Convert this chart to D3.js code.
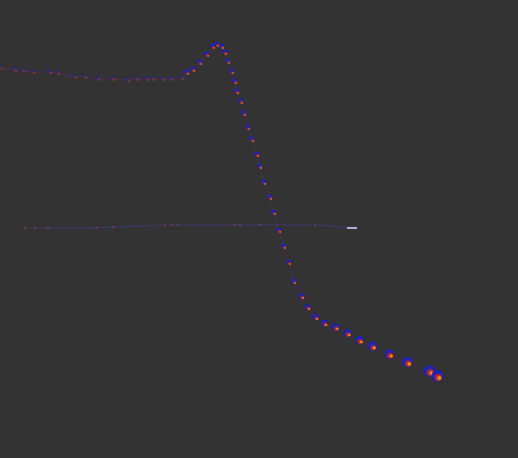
<!DOCTYPE html>
<html><head><meta charset="utf-8">
<script src="https://cdn.jsdelivr.net/npm/d3@7"></script>
<style>html,body{margin:0;padding:0;background:#333333;}svg{display:block;}</style>
</head><body>
<script>
// curve series (x, y in chart units)
const curveX = [0.2,3,4.6,6.6,10,11.6,15,17,19.6,22.6,25.6,27.4,29.4,30.6,32.6,34.4,36.4,37.4,38.6,40,41.4,42.6,43.4,44.4,45,45.6,46.4,47,47.4,48.2,48.8,49.6,50.4,51.4,52,52.8,54,54.8,55.8,56.8,57.8,58.8,60.4,61.6,63.2,65,67.2,69.6,72,74.6,78,81.6,86,87.6];
const curveY = [88,87.5,87.25,87,87,86.75,85.75,85.75,85.25,85.25,85,85.25,85.25,85.25,85.25,85.25,85.5,86.75,87.5,89.25,91.25,93.25,93.75,93.25,91.75,89.5,87,84.5,82,79.5,76.5,73,70,66.25,63.25,59.25,55.5,51.75,47.25,43.25,39.25,34.5,30.75,28,25.5,24,23,21.5,19.75,18.25,16.25,14.25,12,10.75];
// flat reference series
const flatX = [5,7,9.6,19.4,22.6,33,34.4,35.6,47,48,52,63,70,71];
const flatY = [48,48,48,48.1,48.2,48.75,48.75,48.75,48.75,48.75,48.8,48.75,48.1,48];

const W = 518, H = 458;
const x = d3.scaleLinear().domain([0,100]).range([0,500]);
const y = d3.scaleLinear().domain([0,100]).range([420,20]);

const svg = d3.select("body").append("svg").attr("width",W).attr("height",H);
svg.append("rect").attr("width",W).attr("height",H).attr("fill","#333333");

const defs = svg.append("defs");
const f = defs.append("filter").attr("id","blur").attr("x","-50%").attr("y","-50%").attr("width","200%").attr("height","200%");
f.append("feGaussianBlur").attr("stdDeviation",0.7);

const curve = curveX.map((v,i)=>({x:v,y:curveY[i],i}));
const flat = flatX.map((v,i)=>({x:v,y:flatY[i]}));

// flat series line
svg.append("path").datum(flat)
  .attr("d", d3.line().x(d=>x(d.x)).y(d=>y(d.y)))
  .attr("fill","none").attr("stroke","#4a3aa0").attr("stroke-opacity",0.5).attr("stroke-width",1.2);
svg.append("g").selectAll("circle").data(flat).join("circle")
  .attr("cx",d=>x(d.x)).attr("cy",d=>y(d.y)).attr("r",1.4)
  .attr("fill","#a04040").attr("opacity",0.45);
svg.append("line").attr("x1",x(71)-8).attr("x2",x(71)+2).attr("y1",y(48)).attr("y2",y(48))
  .attr("stroke","#c8d8ff").attr("stroke-width",1.5);

// curve line
svg.append("path").datum(curve)
  .attr("d", d3.line().x(d=>x(d.x)).y(d=>y(d.y)))
  .attr("fill","none").attr("stroke","#5a2a80").attr("stroke-opacity",0.4).attr("stroke-width",1.3);

const g = svg.append("g").attr("filter","url(#blur)");
const pts = g.selectAll("g.p").data(curve).join("g")
  .attr("transform",d=>`translate(${x(d.x)},${y(d.y)})`)
  .attr("opacity",d=> d.x < 37 ? 0.4 : 0.95);
const rad = d => d.x < 37 ? 2.2 : (d.x < 60 ? 2.4 : 2.8 + (d.x-60)/28*3.2);
pts.append("circle").attr("cx",-0.6).attr("cy",-1).attr("r",rad).attr("fill","#1e22c0");
pts.append("circle").attr("cx",0.3).attr("cy",0.6).attr("r",d=>rad(d)*0.6).attr("fill","#c8281a");
pts.append("circle").attr("cx",1.3).attr("cy",1).attr("r",d=>rad(d)*0.32).attr("fill","#e89a20");
</script>
</body></html>
